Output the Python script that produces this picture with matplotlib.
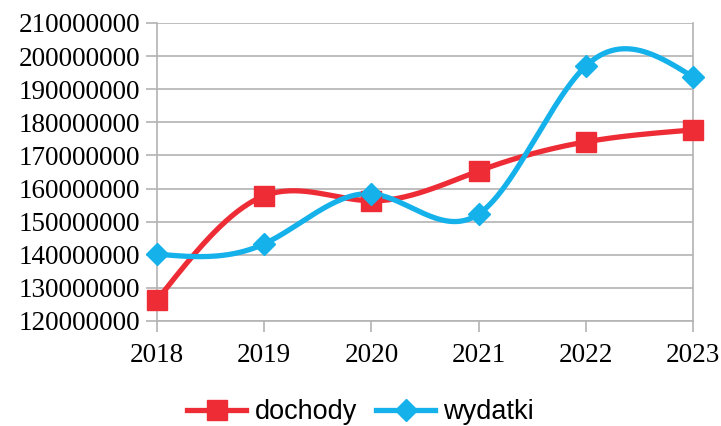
import numpy as np
import matplotlib.pyplot as plt
from matplotlib.ticker import FuncFormatter

# dane
years = [2018, 2019, 2020, 2021, 2022, 2023]
dochody = [126300000, 157800000, 156300000, 165300000, 174100000, 177700000]
wydatki = [140200000, 143300000, 158400000, 152300000, 197000000, 193700000]

RED = "#EE2C36"
BLUE = "#14B1EB"


# Naturalny spline kubiczny (jak wygladzanie w arkuszu)
def natural_spline(x, y, n=60):
    x = np.asarray(x, float)
    y = np.asarray(y, float)
    k = len(x)
    h = np.diff(x)
    A = np.zeros((k, k))
    b = np.zeros(k)
    A[0, 0] = 1
    A[-1, -1] = 1
    for i in range(1, k - 1):
        A[i, i - 1] = h[i - 1]
        A[i, i] = 2 * (h[i - 1] + h[i])
        A[i, i + 1] = h[i]
        b[i] = 6 * ((y[i + 1] - y[i]) / h[i] - (y[i] - y[i - 1]) / h[i - 1])
    M = np.linalg.solve(A, b)
    xs, ys = [], []
    for i in range(k - 1):
        t = np.linspace(x[i], x[i + 1], n)
        a = x[i + 1] - t
        c = t - x[i]
        s = (M[i] * a**3 + M[i + 1] * c**3) / (6 * h[i]) \
            + (y[i] / h[i] - M[i] * h[i] / 6) * a \
            + (y[i + 1] / h[i] - M[i + 1] * h[i] / 6) * c
        xs.extend(t)
        ys.extend(s)
    return np.array(xs), np.array(ys)


fig = plt.figure(figsize=(7.21, 4.26), dpi=100)
ax = fig.add_axes([157 / 721, 1 - 321 / 426, (693 - 157) / 721, (321 - 23) / 426])

x = np.arange(len(years))
for vals, col, mk, ms, name in [(dochody, RED, "s", 14, "dochody"),
                                (wydatki, BLUE, "D", 11.5, "wydatki")]:
    sx, sy = natural_spline(x, vals)
    ax.plot(sx, sy, color=col, lw=3.8, solid_capstyle="round", zorder=3, clip_on=False)
    ax.plot(x, vals, linestyle="None", marker=mk, ms=ms, color=col, zorder=4, clip_on=False)
    ax.plot([], [], color=col, lw=3.8, marker=mk, ms=ms, label=name)

ax.set_xlim(0, len(years) - 1)
ax.set_ylim(120000000, 210000000)
ax.set_yticks(np.arange(120000000, 210000001, 10000000))
ax.yaxis.set_major_formatter(FuncFormatter(lambda v, p: f"{int(v)}"))
ax.set_xticks(x)
ax.set_xticklabels([str(y) for y in years])

ax.grid(axis="y", color="#B3B3B3", lw=1.2)
ax.set_axisbelow(True)
for s in ax.spines.values():
    s.set_color("#B3B3B3")
    s.set_linewidth(1.2)
ax.spines["top"].set_visible(False)

ax.tick_params(axis="both", colors="#B3B3B3", width=1.2, length=8,
               labelcolor="black", labelsize=19.5)
for lab in ax.get_xticklabels() + ax.get_yticklabels():
    lab.set_family("Liberation Serif")
ax.tick_params(axis="y", pad=4)
ax.tick_params(axis="x", pad=8)

fig.legend(loc="center", bbox_to_anchor=(0.5, 1 - 412 / 426), ncol=2,
           frameon=False, prop={"family": "Liberation Sans", "size": 19.5},
           handlelength=2.2, handletextpad=0.3, columnspacing=0.7, numpoints=1,
           borderpad=0.1)

fig.savefig("out.png", dpi=100)
